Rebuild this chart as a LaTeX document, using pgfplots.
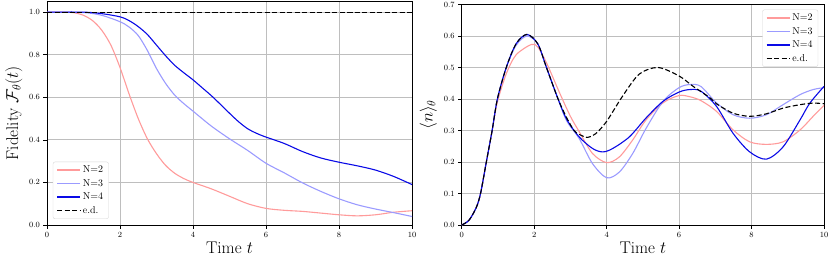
\documentclass[border=0pt]{standalone}
\usepackage{pgfplots}
\pgfplotsset{compat=1.18}
\definecolor{cN2}{RGB}{255,155,155}
\definecolor{cN3}{RGB}{155,155,255}
\definecolor{cN4}{RGB}{10,10,230}
\definecolor{gridc}{RGB}{190,190,190}
\definecolor{legc}{RGB}{215,215,215}
\pgfplotsset{
  myaxis/.style={
    scale only axis,
    xmin=0, xmax=10,
    xtick={0,2,4,6,8,10},
    tick pos=left,
    tick align=outside,
    major tick length=3.5bp,
    every tick/.style={black, line width=0.6bp},
    grid=major,
    major grid style={gridc, line width=0.8bp},
    axis line style={line width=0.7bp},
    tick label style={font=\fontsize{8.5}{10}\selectfont},
    label style={font=\fontsize{17}{20}\selectfont},
    yticklabel style={/pgf/number format/fixed, /pgf/number format/fixed zerofill, /pgf/number format/precision=1},
    legend cell align=left,
    legend style={font=\fontsize{10}{11.5}\selectfont, draw=legc, rounded corners=2bp, fill=white, inner xsep=3.5bp, inner ysep=2bp, row sep=1.2bp},
    legend image code/.code={\draw[#1, line width=1.3bp] (0bp,0bp) -- (23bp,0bp);},
    xlabel={Time $t$},
    xlabel style={yshift=2bp},
  },
  pN2/.style={draw=cN2, line width=1.1bp, smooth},
  pN3/.style={draw=cN3, line width=1.1bp, smooth},
  pN4/.style={draw=cN4, line width=1.1bp, smooth},
  ped/.style={draw=black, line width=1.1bp, smooth, dash pattern=on 5bp off 2.5bp},
}
\begin{document}
\begin{tikzpicture}
\begin{axis}[myaxis,
  at={(0bp,0bp)}, anchor=south west,
  width=365bp, height=223.5bp,
  ymin=0, ymax=1.05,
  ytick={0,0.2,0.4,0.6,0.8,1.0},
  ylabel={Fidelity $\mathcal{F}_\theta(t)$},
  ylabel style={yshift=0bp},
  legend style={at={(0.016,0.027)}, anchor=south west},
]
\addplot[pN2] coordinates {
(0,1.0) (0.5,1.0) (0.75,0.997) (1.0,0.985) (1.25,0.96) (1.5,0.915) (1.75,0.845)
(2.0,0.74) (2.25,0.615) (2.5,0.50) (2.75,0.405) (3.0,0.335) (3.25,0.28) (3.5,0.243)
(3.75,0.218) (4.0,0.2) (4.5,0.17) (5.0,0.135) (5.5,0.10) (6.0,0.078) (6.5,0.069)
(7.0,0.064) (7.5,0.056) (8.0,0.048) (8.5,0.043) (9.0,0.048) (9.5,0.06) (10,0.067)};
\addlegendentry{N=2}
\addplot[pN3] coordinates {
(0,1.0) (1.0,0.998) (1.5,0.985) (2.0,0.955) (2.25,0.93) (2.5,0.89) (2.75,0.82)
(3.0,0.735) (3.25,0.665) (3.5,0.61) (3.75,0.57) (4.0,0.535) (4.5,0.465) (5.0,0.405)
(5.5,0.35) (6.0,0.29) (6.5,0.245) (7.0,0.198) (7.5,0.158) (8.0,0.123) (8.5,0.095)
(9.0,0.075) (9.5,0.058) (10,0.04)};
\addlegendentry{N=3}
\addplot[pN4] coordinates {
(0,1.0) (1.0,1.0) (1.5,0.993) (2.0,0.978) (2.25,0.96) (2.5,0.932) (2.75,0.895)
(3.0,0.845) (3.25,0.795) (3.5,0.75) (3.75,0.715) (4.0,0.682) (4.25,0.645) (4.5,0.608)
(4.75,0.567) (5.0,0.525) (5.25,0.485) (5.5,0.452) (5.75,0.43) (6.0,0.413) (6.5,0.383)
(7.0,0.345) (7.5,0.315) (8.0,0.295) (8.5,0.278) (9.0,0.258) (9.5,0.228) (10,0.19)};
\addlegendentry{N=4}
\addplot[ped] coordinates {(0,1.0) (10,1.0)};
\addlegendentry{e.d.}
\end{axis}

\begin{axis}[myaxis,
  at={(414.7bp,0bp)}, anchor=south west,
  width=362.3bp, height=220.5bp,
  ymin=0, ymax=0.7,
  ytick={0,0.1,0.2,0.3,0.4,0.5,0.6,0.7},
  ylabel={$\langle n\rangle_\theta$},
  legend style={at={(0.984,0.977)}, anchor=north east},
]
\addplot[pN2] coordinates {
(0,0) (0.2,0.015) (0.4,0.055) (0.52,0.10) (0.68,0.20) (0.84,0.30) (0.985,0.39)
(1.23,0.48) (1.5,0.54) (1.92,0.573) (2.1,0.565) (2.34,0.515) (2.7,0.42) (3.0,0.345)
(3.24,0.297) (3.61,0.227) (4.0,0.198) (4.35,0.216) (4.72,0.27) (5.09,0.334)
(5.56,0.388) (6.0,0.411) (6.3,0.407) (6.6,0.395) (7.03,0.361) (7.49,0.302)
(7.95,0.264) (8.41,0.256) (8.87,0.264) (9.34,0.302) (9.7,0.345) (10,0.38)};
\addlegendentry{N=2}
\addplot[pN3] coordinates {
(0,0) (0.2,0.015) (0.4,0.055) (0.52,0.10) (0.68,0.20) (0.84,0.30) (0.985,0.40)
(1.23,0.50) (1.5,0.57) (1.8,0.60) (2.1,0.575) (2.34,0.50) (2.66,0.40) (2.9,0.33)
(3.24,0.275) (3.61,0.195) (4.0,0.15) (4.35,0.168) (4.72,0.227) (5.09,0.307)
(5.56,0.393) (6.0,0.436) (6.3,0.446) (6.6,0.44) (7.03,0.388) (7.49,0.35)
(7.95,0.339) (8.41,0.35) (8.87,0.382) (9.34,0.414) (9.7,0.43) (10,0.436)};
\addlegendentry{N=3}
\addplot[pN4] coordinates {
(0,0) (0.2,0.015) (0.4,0.055) (0.52,0.10) (0.68,0.20) (0.84,0.30) (0.985,0.40)
(1.23,0.50) (1.5,0.575) (1.8,0.605) (2.1,0.575) (2.34,0.50) (2.66,0.40) (2.9,0.335)
(3.24,0.28) (3.61,0.243) (3.89,0.232) (4.17,0.243) (4.63,0.28) (5.09,0.34)
(5.56,0.393) (6.0,0.422) (6.3,0.43) (6.6,0.425) (7.03,0.377) (7.49,0.291)
(7.95,0.232) (8.41,0.209) (8.87,0.248) (9.34,0.334) (9.61,0.387) (10,0.44)};
\addlegendentry{N=4}
\addplot[ped] coordinates {
(0,0) (0.2,0.015) (0.4,0.055) (0.52,0.10) (0.68,0.20) (0.84,0.30) (0.985,0.40)
(1.23,0.50) (1.5,0.575) (1.8,0.605) (2.1,0.575) (2.34,0.50) (2.66,0.40) (2.9,0.34)
(3.1,0.30) (3.24,0.288) (3.47,0.278) (3.7,0.29) (4.0,0.329) (4.44,0.409) (4.9,0.479)
(5.42,0.50) (6.0,0.473) (6.39,0.44) (6.85,0.404) (7.03,0.385) (7.49,0.355)
(7.95,0.345) (8.41,0.353) (8.87,0.371) (9.34,0.382) (9.7,0.387) (10,0.385)};
\addlegendentry{e.d.}
\end{axis}
\pgfresetboundingbox
\path[use as bounding box] (-47bp,-34bp) rectangle (783bp,225bp);
\end{tikzpicture}
\end{document}
